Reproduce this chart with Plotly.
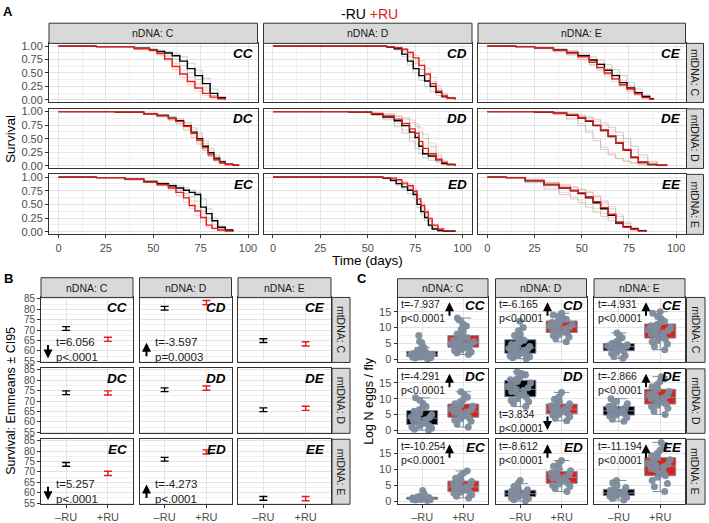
import plotly.graph_objects as go

# ------------------------------------------------------------------
# DATA
# ------------------------------------------------------------------
GENOS = ["CC", "CD", "CE", "DC", "DD", "DE", "EC", "ED", "EE"]
NDNA = ["nDNA: C", "nDNA: D", "nDNA: E"]
MTDNA = ["mtDNA: C", "mtDNA: D", "mtDNA: E"]
X_CATS = ["–RU", "+RU"]

# Panel A: Kaplan-Meier survival (day, survival)
CC_DAYS = [0, 20, 40, 48, 52, 56, 60, 64, 68, 72, 76, 80, 84, 88]
CC_NEG = [1, 0.99, 0.96, 0.93, 0.9, 0.87, 0.82, 0.72, 0.58, 0.45, 0.3, 0.12, 0.04, 0.01]
CC_POS = [1, 0.99, 0.95, 0.92, 0.86, 0.76, 0.62, 0.48, 0.34, 0.22, 0.12, 0.05, 0.02, 0.0]
CC_NEG_REPS = [[1, 0.99, 0.97, 0.95, 0.93, 0.9, 0.86, 0.8, 0.68, 0.55, 0.4, 0.2, 0.06, 0.01],
               [1, 0.98, 0.95, 0.91, 0.87, 0.83, 0.76, 0.64, 0.5, 0.38, 0.22, 0.08, 0.02, 0.0]]
CC_POS_REPS = [[1, 0.99, 0.96, 0.93, 0.88, 0.8, 0.68, 0.55, 0.42, 0.3, 0.18, 0.08, 0.03, 0.0],
               [1, 0.98, 0.94, 0.9, 0.83, 0.72, 0.56, 0.42, 0.28, 0.16, 0.08, 0.03, 0.01, 0.0]]

CD_DAYS = [0, 40, 60, 64, 68, 71, 74, 77, 80, 83, 86, 89, 92, 96]
CD_NEG = [1, 1, 0.98, 0.95, 0.85, 0.72, 0.58, 0.45, 0.35, 0.25, 0.14, 0.06, 0.03, 0.01]
CD_POS = [1, 1, 0.99, 0.97, 0.94, 0.88, 0.78, 0.64, 0.48, 0.3, 0.16, 0.07, 0.03, 0.01]
CD_NEG_REPS = [[1, 1, 0.98, 0.93, 0.8, 0.65, 0.5, 0.36, 0.24, 0.15, 0.08, 0.04, 0.02, 0.0],
               [1, 1, 0.99, 0.97, 0.9, 0.8, 0.68, 0.56, 0.45, 0.34, 0.2, 0.1, 0.04, 0.01]]
CD_POS_REPS = [[1, 1, 0.99, 0.98, 0.95, 0.9, 0.83, 0.72, 0.58, 0.42, 0.26, 0.12, 0.05, 0.01],
               [1, 1, 0.98, 0.96, 0.92, 0.84, 0.72, 0.56, 0.4, 0.24, 0.12, 0.05, 0.02, 0.0]]

CE_DAYS = [0, 15, 25, 35, 42, 48, 54, 58, 62, 66, 70, 74, 78, 82, 86, 88]
CE_NEG = [1, 0.99, 0.97, 0.93, 0.88, 0.82, 0.74, 0.66, 0.55, 0.45, 0.32, 0.22, 0.13, 0.06, 0.02, 0.01]
CE_POS = [1, 0.99, 0.97, 0.92, 0.87, 0.8, 0.7, 0.6, 0.5, 0.39, 0.28, 0.2, 0.11, 0.04, 0.01, 0.0]
CE_NEG_REPS = [[1, 1, 0.98, 0.95, 0.92, 0.87, 0.8, 0.74, 0.66, 0.56, 0.45, 0.32, 0.2, 0.09, 0.03, 0.01],
               [1, 0.99, 0.96, 0.9, 0.84, 0.76, 0.66, 0.57, 0.47, 0.38, 0.27, 0.18, 0.1, 0.04, 0.01, 0.0]]
CE_POS_REPS = [[1, 0.99, 0.97, 0.93, 0.89, 0.84, 0.76, 0.68, 0.58, 0.47, 0.36, 0.26, 0.15, 0.07, 0.02, 0.0],
               [1, 0.98, 0.95, 0.89, 0.83, 0.75, 0.64, 0.54, 0.44, 0.34, 0.24, 0.15, 0.08, 0.03, 0.01, 0.0]]

DC_DAYS = [0, 30, 45, 52, 58, 62, 66, 70, 73, 76, 79, 82, 85, 88, 92, 95]
DC_NEG = [1, 0.99, 0.96, 0.93, 0.88, 0.83, 0.74, 0.62, 0.5, 0.36, 0.24, 0.14, 0.07, 0.03, 0.01, 0.0]
DC_POS = [1, 0.99, 0.96, 0.92, 0.87, 0.82, 0.73, 0.6, 0.47, 0.33, 0.2, 0.11, 0.05, 0.02, 0.01, 0.0]
DC_NEG_REPS = [[1, 0.99, 0.95, 0.9, 0.84, 0.77, 0.66, 0.52, 0.4, 0.28, 0.17, 0.09, 0.04, 0.02, 0.0, 0.0],
               [1, 1, 0.97, 0.95, 0.91, 0.87, 0.8, 0.7, 0.6, 0.46, 0.32, 0.2, 0.1, 0.04, 0.02, 0.01]]
DC_POS_REPS = [[1, 0.99, 0.97, 0.94, 0.89, 0.85, 0.77, 0.66, 0.55, 0.41, 0.28, 0.17, 0.08, 0.03, 0.01, 0.0],
               [1, 0.99, 0.96, 0.91, 0.85, 0.79, 0.7, 0.57, 0.44, 0.3, 0.18, 0.09, 0.04, 0.01, 0.0, 0.0]]

DD_DAYS = [0, 40, 52, 58, 64, 68, 72, 75, 77, 79, 82, 86, 89, 92, 96]
DD_NEG = [1, 0.99, 0.95, 0.9, 0.83, 0.74, 0.62, 0.52, 0.36, 0.22, 0.18, 0.11, 0.04, 0.02, 0.0]
DD_POS = [1, 0.99, 0.96, 0.92, 0.86, 0.78, 0.68, 0.6, 0.45, 0.32, 0.22, 0.12, 0.06, 0.03, 0.01]
DD_NEG_REPS = [[1, 0.99, 0.93, 0.85, 0.72, 0.6, 0.45, 0.32, 0.22, 0.15, 0.1, 0.06, 0.03, 0.01, 0.0],
               [1, 1, 0.98, 0.95, 0.91, 0.86, 0.8, 0.72, 0.62, 0.5, 0.35, 0.18, 0.08, 0.03, 0.01]]
DD_POS_REPS = [[1, 0.99, 0.94, 0.88, 0.78, 0.66, 0.52, 0.4, 0.3, 0.22, 0.15, 0.08, 0.04, 0.02, 0.0],
               [1, 1, 0.98, 0.96, 0.93, 0.89, 0.84, 0.78, 0.7, 0.58, 0.42, 0.22, 0.1, 0.04, 0.01]]

DE_DAYS = [0, 25, 35, 42, 48, 52, 56, 60, 64, 68, 72, 76, 80, 85, 90, 95]
DE_NEG = [1, 0.99, 0.97, 0.93, 0.88, 0.82, 0.74, 0.65, 0.54, 0.42, 0.29, 0.15, 0.06, 0.02, 0.01, 0.0]
DE_POS = [1, 0.99, 0.97, 0.94, 0.89, 0.83, 0.75, 0.66, 0.55, 0.43, 0.3, 0.16, 0.07, 0.03, 0.01, 0.0]
DE_NEG_REPS = [[1, 0.98, 0.94, 0.86, 0.74, 0.62, 0.46, 0.3, 0.2, 0.13, 0.08, 0.05, 0.03, 0.01, 0.0, 0.0],
               [1, 1, 0.99, 0.97, 0.94, 0.9, 0.85, 0.79, 0.71, 0.62, 0.5, 0.36, 0.2, 0.08, 0.02, 0.0]]
DE_POS_REPS = [[1, 0.99, 0.95, 0.88, 0.78, 0.66, 0.5, 0.34, 0.22, 0.14, 0.09, 0.05, 0.02, 0.01, 0.0, 0.0],
               [1, 1, 0.99, 0.96, 0.92, 0.88, 0.82, 0.75, 0.66, 0.56, 0.44, 0.3, 0.16, 0.06, 0.02, 0.0]]

EC_DAYS = [0, 20, 35, 45, 52, 58, 62, 66, 69, 72, 75, 78, 81, 84, 88, 92]
EC_NEG = [1, 0.99, 0.96, 0.92, 0.88, 0.84, 0.8, 0.76, 0.72, 0.68, 0.45, 0.33, 0.2, 0.08, 0.03, 0.01]
EC_POS = [1, 0.99, 0.96, 0.91, 0.86, 0.8, 0.72, 0.62, 0.48, 0.38, 0.26, 0.12, 0.06, 0.03, 0.01, 0.0]
EC_NEG_REPS = [[1, 0.99, 0.97, 0.93, 0.9, 0.87, 0.84, 0.8, 0.76, 0.72, 0.6, 0.42, 0.25, 0.1, 0.04, 0.01],
               [1, 0.99, 0.95, 0.9, 0.86, 0.81, 0.76, 0.7, 0.64, 0.56, 0.38, 0.25, 0.14, 0.06, 0.02, 0.0]]
EC_POS_REPS = [[1, 0.99, 0.96, 0.92, 0.88, 0.83, 0.76, 0.67, 0.56, 0.46, 0.34, 0.2, 0.1, 0.04, 0.01, 0.0],
               [1, 0.98, 0.95, 0.9, 0.84, 0.76, 0.66, 0.54, 0.42, 0.3, 0.18, 0.08, 0.03, 0.01, 0.0, 0.0]]

ED_DAYS = [0, 40, 58, 62, 65, 68, 71, 74, 76, 78, 80, 82, 84, 87, 90, 96]
ED_NEG = [1, 1, 0.98, 0.94, 0.88, 0.82, 0.76, 0.68, 0.5, 0.37, 0.26, 0.12, 0.05, 0.02, 0.01, 0.0]
ED_POS = [1, 1, 0.99, 0.98, 0.95, 0.89, 0.84, 0.74, 0.6, 0.48, 0.36, 0.24, 0.12, 0.05, 0.02, 0.01]
ED_NEG_REPS = [[1, 1, 0.97, 0.92, 0.85, 0.78, 0.7, 0.6, 0.44, 0.32, 0.2, 0.1, 0.04, 0.01, 0.0, 0.0],
               [1, 1, 0.99, 0.96, 0.91, 0.86, 0.8, 0.72, 0.58, 0.45, 0.33, 0.2, 0.09, 0.03, 0.01, 0.0]]
ED_POS_REPS = [[1, 1, 0.99, 0.97, 0.93, 0.87, 0.8, 0.7, 0.55, 0.42, 0.3, 0.18, 0.08, 0.03, 0.01, 0.0],
               [1, 1, 0.99, 0.98, 0.96, 0.92, 0.87, 0.78, 0.66, 0.53, 0.4, 0.26, 0.14, 0.06, 0.02, 0.0]]

EE_DAYS = [0, 10, 20, 30, 38, 44, 48, 52, 56, 60, 64, 68, 72, 76, 80, 84]
EE_NEG = [1, 0.99, 0.93, 0.86, 0.8, 0.75, 0.7, 0.62, 0.53, 0.42, 0.3, 0.16, 0.09, 0.05, 0.02, 0.0]
EE_POS = [1, 0.99, 0.94, 0.87, 0.81, 0.76, 0.71, 0.64, 0.55, 0.44, 0.32, 0.18, 0.08, 0.04, 0.01, 0.0]
EE_NEG_REPS = [[1, 0.98, 0.9, 0.78, 0.68, 0.6, 0.53, 0.45, 0.36, 0.28, 0.2, 0.14, 0.09, 0.05, 0.02, 0.0],
               [1, 0.99, 0.95, 0.9, 0.85, 0.81, 0.77, 0.72, 0.64, 0.54, 0.42, 0.28, 0.15, 0.07, 0.02, 0.0]]
EE_POS_REPS = [[1, 0.99, 0.92, 0.82, 0.72, 0.64, 0.58, 0.5, 0.42, 0.34, 0.26, 0.18, 0.11, 0.06, 0.02, 0.0],
               [1, 1, 0.96, 0.91, 0.86, 0.82, 0.78, 0.73, 0.66, 0.57, 0.46, 0.32, 0.18, 0.08, 0.03, 0.0]]

# Panel B: emmeans +- CI95 (order of GENOS)
B_NEG_MEAN = [70.8, 80.5, 65.0, 74.0, 75.4, 65.8, 73.6, 76.1, 57.3]
B_NEG_CI = [0.9, 0.9, 0.9, 0.9, 0.9, 0.9, 0.9, 0.9, 0.9]
B_POS_MEAN = [65.6, 83.2, 63.4, 73.9, 76.2, 66.5, 69.3, 79.6, 57.2]
B_POS_CI = [1.0, 1.0, 1.0, 1.0, 1.0, 1.0, 1.0, 1.0, 1.0]
B_STAT_GENOS = ["CC", "CD", "EC", "ED"]
B_STAT_T = ["6.056", "-3.597", "5.257", "-4.273"]
B_STAT_P = ["p&lt;.0001", "p=0.0003", "p&lt;.0001", "p&lt;.0001"]
B_STAT_UP = [False, True, False, True]

# Panel C: log N eggs per fly
C_CC_NEG = [0.2, 0.4, 0.5, 0.6, 0.7, 0.8, 0.8, 0.9, 1.0, 1.1, 1.2, 1.3, 1.4, 1.5, 1.5, 1.6, 1.7, 1.8, 1.9, 2.0, 2.1, 2.3, 2.5, 2.8, 3.0, 3.3, 3.6, 5.2, 5.6, 7.5]
C_CC_POS = [1.5, 2.0, 2.3, 2.8, 3.0, 3.2, 3.5, 3.8, 4.0, 4.3, 4.5, 4.8, 5.0, 5.0, 5.2, 5.5, 5.8, 6.0, 6.3, 6.6, 6.8, 7.0, 7.5, 8.0, 8.8, 9.5, 10.5, 11.2, 12.4, 13.0]
C_CD_NEG = [0.2, 0.5, 0.8, 1.0, 1.3, 1.6, 1.8, 2.0, 2.2, 2.5, 2.8, 3.0, 3.3, 3.5, 3.7, 4.0, 4.3, 4.7, 5.0, 5.5, 6.0, 6.3, 6.8, 7.5, 8.0, 9.0, 10.0, 12.0]
C_CD_POS = [5.5, 6.5, 7.0, 7.5, 7.8, 8.2, 8.5, 8.8, 9.0, 9.3, 9.6, 10.0, 10.2, 10.5, 10.8, 11.0, 11.3, 11.6, 12.0, 12.3, 12.6, 13.0, 13.5, 14.0, 14.5]
C_CE_NEG = [0.3, 0.8, 1.2, 1.8, 2.2, 2.6, 3.0, 3.2, 3.4, 3.6, 3.8, 4.0, 4.1, 4.2, 4.4, 4.6, 4.8, 5.0, 5.5, 6.0, 6.8, 7.5, 8.3]
C_CE_POS = [3.0, 4.0, 4.8, 5.5, 5.9, 6.3, 6.8, 7.2, 7.6, 8.0, 8.3, 8.6, 9.0, 9.3, 9.6, 10.0, 10.2, 10.6, 11.0, 11.5, 12.0, 12.8, 13.5, 14.5, 15.0]
C_DC_NEG = [0.0, 0.3, 0.6, 1.0, 1.3, 1.6, 2.0, 2.3, 2.6, 3.0, 3.3, 3.6, 4.0, 4.3, 4.7, 5.0, 5.5, 6.0, 6.5, 7.0, 7.5, 8.5, 9.5, 10.3]
C_DC_POS = [1.0, 2.0, 2.8, 3.2, 3.6, 4.0, 4.4, 4.8, 5.2, 5.6, 5.8, 6.1, 6.4, 6.8, 7.2, 7.6, 8.0, 8.4, 9.0, 9.6, 10.5, 11.3, 12.2]
C_DD_NEG = [7.5, 8.5, 9.0, 9.5, 10.0, 10.5, 11.0, 11.5, 12.0, 12.3, 12.6, 13.0, 13.5, 14.0, 14.5, 15.0, 15.5, 16.0, 16.3, 16.8, 17.5, 18.0, 18.5]
C_DD_POS = [3.0, 3.8, 4.3, 4.8, 5.0, 5.4, 5.8, 6.0, 6.3, 6.5, 6.8, 7.0, 7.4, 7.8, 8.2, 8.4, 9.0, 9.8, 10.6, 12.0]
C_DE_NEG = [2.8, 3.5, 4.0, 4.5, 4.8, 5.2, 5.5, 5.8, 6.0, 6.3, 6.6, 6.9, 7.2, 7.5, 7.9, 8.4, 9.2, 10.0]
C_DE_POS = [5.0, 6.0, 7.0, 7.5, 7.9, 8.3, 8.8, 9.2, 9.6, 10.0, 10.3, 10.6, 11.0, 11.4, 11.8, 12.3, 13.0, 13.8, 14.5, 15.5, 16.3, 17.0]
C_EC_NEG = [0.2, 0.3, 0.4, 0.5, 0.5, 0.6, 0.6, 0.7, 0.7, 0.8, 0.8, 0.9, 0.9, 1.0, 1.0, 1.1, 1.2, 1.3, 1.5, 1.8, 2.2, 3.3]
C_EC_POS = [1.0, 1.5, 2.0, 2.5, 2.8, 3.0, 3.3, 3.6, 3.9, 4.2, 4.5, 4.8, 5.1, 5.4, 5.8, 6.2, 6.6, 7.2, 8.0, 8.8, 9.5]
C_ED_NEG = [0.0, 0.4, 0.8, 1.0, 1.3, 1.5, 1.7, 1.9, 2.1, 2.2, 2.4, 2.6, 2.8, 3.0, 3.2, 3.6, 4.0, 4.6, 5.5, 6.5]
C_ED_POS = [3.0, 4.0, 4.6, 5.0, 5.4, 5.8, 6.2, 6.6, 7.0, 7.3, 7.6, 8.0, 8.4, 8.8, 9.1, 9.6, 10.2, 11.0, 11.8, 12.8]
C_EE_NEG = [0.3, 0.8, 1.2, 1.5, 1.7, 1.9, 2.1, 2.3, 2.4, 2.5, 2.7, 2.9, 3.1, 3.4, 3.8, 4.3, 5.0, 5.8, 6.5]
C_EE_POS = [3.0, 4.5, 5.5, 6.5, 7.5, 8.0, 8.6, 9.2, 9.8, 10.3, 10.8, 11.2, 11.6, 12.0, 12.5, 13.0, 13.7, 14.3, 15.0, 16.0, 17.0, 18.5]
C_STAT_T = ["-7.937", "-6.165", "-4.931", "-4.291", "3.834", "-2.866", "-10.254", "-8.612", "-11.194"]
C_STAT_UP = [True, True, True, True, False, True, True, True, True]
C_STAT_P = "p&lt;0.0001"

# ------------------------------------------------------------------
# assemble helpers
# ------------------------------------------------------------------
A_DATA = {
    "CC": (CC_DAYS, CC_NEG, CC_POS, CC_NEG_REPS, CC_POS_REPS),
    "CD": (CD_DAYS, CD_NEG, CD_POS, CD_NEG_REPS, CD_POS_REPS),
    "CE": (CE_DAYS, CE_NEG, CE_POS, CE_NEG_REPS, CE_POS_REPS),
    "DC": (DC_DAYS, DC_NEG, DC_POS, DC_NEG_REPS, DC_POS_REPS),
    "DD": (DD_DAYS, DD_NEG, DD_POS, DD_NEG_REPS, DD_POS_REPS),
    "DE": (DE_DAYS, DE_NEG, DE_POS, DE_NEG_REPS, DE_POS_REPS),
    "EC": (EC_DAYS, EC_NEG, EC_POS, EC_NEG_REPS, EC_POS_REPS),
    "ED": (ED_DAYS, ED_NEG, ED_POS, ED_NEG_REPS, ED_POS_REPS),
    "EE": (EE_DAYS, EE_NEG, EE_POS, EE_NEG_REPS, EE_POS_REPS),
}
C_DATA = {
    "CC": (C_CC_NEG, C_CC_POS), "CD": (C_CD_NEG, C_CD_POS), "CE": (C_CE_NEG, C_CE_POS),
    "DC": (C_DC_NEG, C_DC_POS), "DD": (C_DD_NEG, C_DD_POS), "DE": (C_DE_NEG, C_DE_POS),
    "EC": (C_EC_NEG, C_EC_POS), "ED": (C_ED_NEG, C_ED_POS), "EE": (C_EE_NEG, C_EE_POS),
}

W, H = 709, 523
FONT = "Liberation Sans, Arial, sans-serif"
RED = "#E0201A"
BLACK = "#000000"
GREY_REP = "rgba(150,150,150,0.45)"
PINK_REP = "rgba(240,130,120,0.35)"
BORDER = "#333333"
GRID = "#E4E4E4"
GRID_MINOR = "#F0F0F0"
STRIP_FILL = "#D9D9D9"
TICK_COL = "#4D4D4D"
PT_COL = "#7D8B9C"


def fx(x):
    return x / W


def fy(y):
    return 1 - y / H


layout = dict(
    width=W, height=H, margin=dict(l=0, r=0, t=0, b=0),
    paper_bgcolor="white", plot_bgcolor="white", showlegend=False,
    font=dict(family=FONT, color=TICK_COL, size=11),
)
shapes, annotations, traces = [], [], []


def ids(n):
    return ("x" if n == 1 else f"x{n}"), ("y" if n == 1 else f"y{n}")


def keys(n):
    return ("xaxis" if n == 1 else f"xaxis{n}"), ("yaxis" if n == 1 else f"yaxis{n}")


def base_axis(dom, anchor, rng, show_labels, fsize=11):
    return dict(
        domain=dom, anchor=anchor, range=rng, showline=True, mirror=True,
        linecolor=BORDER, linewidth=1, zeroline=False, showgrid=True,
        gridcolor=GRID, gridwidth=0.9, fixedrange=True,
        showticklabels=show_labels, ticks="outside" if show_labels else "",
        ticklen=3, tickcolor=BORDER, tickwidth=1,
        tickfont=dict(family=FONT, size=fsize, color=TICK_COL),
    )


def label(x, y, text, size, color="black", angle=0, xanchor="center", yanchor="middle", align="center"):
    annotations.append(dict(xref="paper", yref="paper", x=fx(x), y=fy(y), text=text, showarrow=False,
                            textangle=angle, xanchor=xanchor, yanchor=yanchor, align=align,
                            font=dict(family=FONT, size=size, color=color)))


def strip_rect(x0, y0, x1, y1, text, vertical=False):
    shapes.append(dict(type="rect", xref="paper", yref="paper",
                       x0=fx(x0), x1=fx(x1), y0=fy(y1), y1=fy(y0),
                       fillcolor=STRIP_FILL, line=dict(color=BORDER, width=1), layer="above"))
    label((x0 + x1) / 2, (y0 + y1) / 2, text, 10.5, "#1A1A1A", 90 if vertical else 0)


def geno_label(xr, yt, text):
    label(xr, yt, f"<b><i>{text}</i></b>", 13.5, "black", xanchor="right")


def arrow(x, y_head, up, length=15):
    annotations.append(dict(xref="paper", yref="paper", x=fx(x), y=fy(y_head), text="",
                            showarrow=True, arrowhead=2, arrowsize=0.9, arrowwidth=2,
                            arrowcolor="black", ax=0, ay=length if up else -length))


def stat_text(x, ytop, text, size=11):
    label(x, ytop, text, size, "#1A1A1A", xanchor="left", yanchor="top", align="left")


# ------------------------------------------------------------------
# PANEL A
# ------------------------------------------------------------------
A_COLS = [(49, 257.5), (263.5, 472), (478, 685.5)]
A_ROWS = [(40, 100), (106.5, 167), (173, 234)]
for i, g in enumerate(GENOS):
    r, c = divmod(i, 3)
    n = i + 1
    xi, yi = ids(n)
    xk, yk = keys(n)
    (x0, x1), (t0, t1) = A_COLS[c], A_ROWS[r]
    xa = base_axis([fx(x0), fx(x1)], yi, [-5, 105], r == 2)
    xa.update(tick0=0, dtick=25, minor=dict(dtick=12.5, tick0=0, showgrid=True, gridcolor=GRID_MINOR, gridwidth=0.6))
    ya = base_axis([fy(t1), fy(t0)], xi, [-0.05, 1.05], c == 0)
    ya.update(tick0=0, dtick=0.25, tickformat=".2f",
              minor=dict(dtick=0.125, tick0=0, showgrid=True, gridcolor=GRID_MINOR, gridwidth=0.6))
    layout[xk], layout[yk] = xa, ya
    days, neg, pos, nreps, preps = A_DATA[g]
    for rep in nreps:
        traces.append(go.Scatter(x=days, y=rep, mode="lines", line=dict(color=GREY_REP, width=1, shape="hv"),
                                 xaxis=xi, yaxis=yi, hoverinfo="skip"))
    for rep in preps:
        traces.append(go.Scatter(x=days, y=rep, mode="lines", line=dict(color=PINK_REP, width=1, shape="hv"),
                                 xaxis=xi, yaxis=yi, hoverinfo="skip"))
    traces.append(go.Scatter(x=days, y=neg, mode="lines", line=dict(color=BLACK, width=1.4, shape="hv"),
                             xaxis=xi, yaxis=yi))
    traces.append(go.Scatter(x=days, y=pos, mode="lines", line=dict(color=RED, width=1.4, shape="hv"),
                             xaxis=xi, yaxis=yi))
    geno_label(x1 - 3, t0 + 10, g)

for c in range(3):
    strip_rect(A_COLS[c][0], 19.5, A_COLS[c][1], 40, NDNA[c])
for r in range(3):
    strip_rect(686.5, A_ROWS[r][0], 703.5, A_ROWS[r][1], MTDNA[r], vertical=True)

label(367, 260, "Time (days)", 13.5)
label(11, 137, "Survival", 13.5, angle=-90)
label(369, 10, f"-RU <span style='color:{RED}'>+RU</span>", 14)

# ------------------------------------------------------------------
# PANEL B
# ------------------------------------------------------------------
B_COLS = [(41, 133), (139.5, 231.5), (238, 331)]
B_ROWS = [(298, 364), (370, 436), (442, 508)]
for i, g in enumerate(GENOS):
    r, c = divmod(i, 3)
    n = 10 + i
    xi, yi = ids(n)
    xk, yk = keys(n)
    (x0, x1), (t0, t1) = B_COLS[c], B_ROWS[r]
    xa = base_axis([fx(x0), fx(x1)], yi, [0.4, 2.6], r == 2)
    xa.update(tickmode="array", tickvals=[1, 2], ticktext=X_CATS)
    ya = base_axis([fy(t1), fy(t0)], xi, [54.5, 85.7], c == 0, fsize=10)
    ya.update(tick0=55, dtick=5, minor=dict(dtick=2.5, tick0=55, showgrid=True, gridcolor=GRID_MINOR, gridwidth=0.6))
    layout[xk], layout[yk] = xa, ya
    traces.append(go.Scatter(x=[1], y=[B_NEG_MEAN[i]], mode="markers", marker=dict(size=0.1, color=BLACK),
                             error_y=dict(type="data", array=[B_NEG_CI[i]], color=BLACK, thickness=1.4, width=4),
                             xaxis=xi, yaxis=yi))
    traces.append(go.Scatter(x=[2], y=[B_POS_MEAN[i]], mode="markers", marker=dict(size=0.1, color=RED),
                             error_y=dict(type="data", array=[B_POS_CI[i]], color=RED, thickness=1.4, width=4),
                             xaxis=xi, yaxis=yi))
    geno_label(x1 - 4, t0 + 10, g)

for k, g in enumerate(B_STAT_GENOS):
    i = GENOS.index(g)
    r, c = divmod(i, 3)
    (x0, x1), (t0, t1) = B_COLS[c], B_ROWS[r]
    stat_text(x0 + 13, t1 - 29, f"t={B_STAT_T[k]}<br>{B_STAT_P[k]}", size=11.5)
    if B_STAT_UP[k]:
        arrow(x0 + 7, t1 - 20, True, 15)
    else:
        arrow(x0 + 7, t1 - 4, False, 15)

for c in range(3):
    strip_rect(B_COLS[c][0], 278, B_COLS[c][1], 298, NDNA[c])
for r in range(3):
    strip_rect(332, B_ROWS[r][0], 350, B_ROWS[r][1], MTDNA[r], vertical=True)
label(11, 403, "Survival: Emmeans ± CI95", 12.5, angle=-90)

# ------------------------------------------------------------------
# PANEL C
# ------------------------------------------------------------------
C_COLS = [(397.5, 488), (495.5, 586.5), (594, 685)]
C_ROWS = [(298, 364), (370.5, 436), (442, 508)]
for i, g in enumerate(GENOS):
    r, c = divmod(i, 3)
    n = 19 + i
    xi, yi = ids(n)
    xk, yk = keys(n)
    (x0, x1), (t0, t1) = C_COLS[c], C_ROWS[r]
    xa = base_axis([fx(x0), fx(x1)], yi, [0.4, 2.6], r == 2)
    xa.update(tickmode="array", tickvals=[1, 2], ticktext=X_CATS)
    ya = base_axis([fy(t1), fy(t0)], xi, [-1.0, 19.5], c == 0)
    ya.update(tick0=0, dtick=5, minor=dict(dtick=2.5, tick0=0, showgrid=True, gridcolor=GRID_MINOR, gridwidth=0.6))
    layout[xk], layout[yk] = xa, ya
    neg, pos = C_DATA[g]
    for xpos, vals, fill in ((1, neg, "#000000"), (2, pos, "#D9241C")):
        traces.append(go.Box(x=[xpos] * len(vals), y=vals, width=0.75, fillcolor=fill,
                             line=dict(color=PT_COL, width=1), boxpoints="all", jitter=0.8, pointpos=0,
                             marker=dict(color=PT_COL, size=7, opacity=0.95),
                             xaxis=xi, yaxis=yi, hoverinfo="skip"))
    geno_label(x1 - 1.5, t0 + 8, g)
    if C_STAT_UP[i]:
        stat_text(x0 + 1.5, t0 - 1, f"t={C_STAT_T[i]}<br>{C_STAT_P}", size=10.5)
        arrow(x0 + 52, t0 + 5, True, 15)
    else:
        stat_text(x0 + 1.5, t0 + 38, f"t={C_STAT_T[i]}<br>{C_STAT_P}", size=10.5)
        arrow(x0 + 52, t0 + 62, False, 15)

for c in range(3):
    strip_rect(C_COLS[c][0], 279, C_COLS[c][1], 298, NDNA[c])
for r in range(3):
    strip_rect(686.5, C_ROWS[r][0], 705, C_ROWS[r][1], MTDNA[r], vertical=True)
label(369, 403, "Log N eggs / fly", 12.5, angle=-90)

# panel letters
for letter, x, y in (("A", 8, 8), ("B", 8, 279), ("C", 362, 279)):
    label(x, y, f"<b>{letter}</b>", 13)

layout["shapes"] = shapes
layout["annotations"] = annotations
fig = go.Figure(data=traces, layout=layout)
fig.write_html("out.html")
